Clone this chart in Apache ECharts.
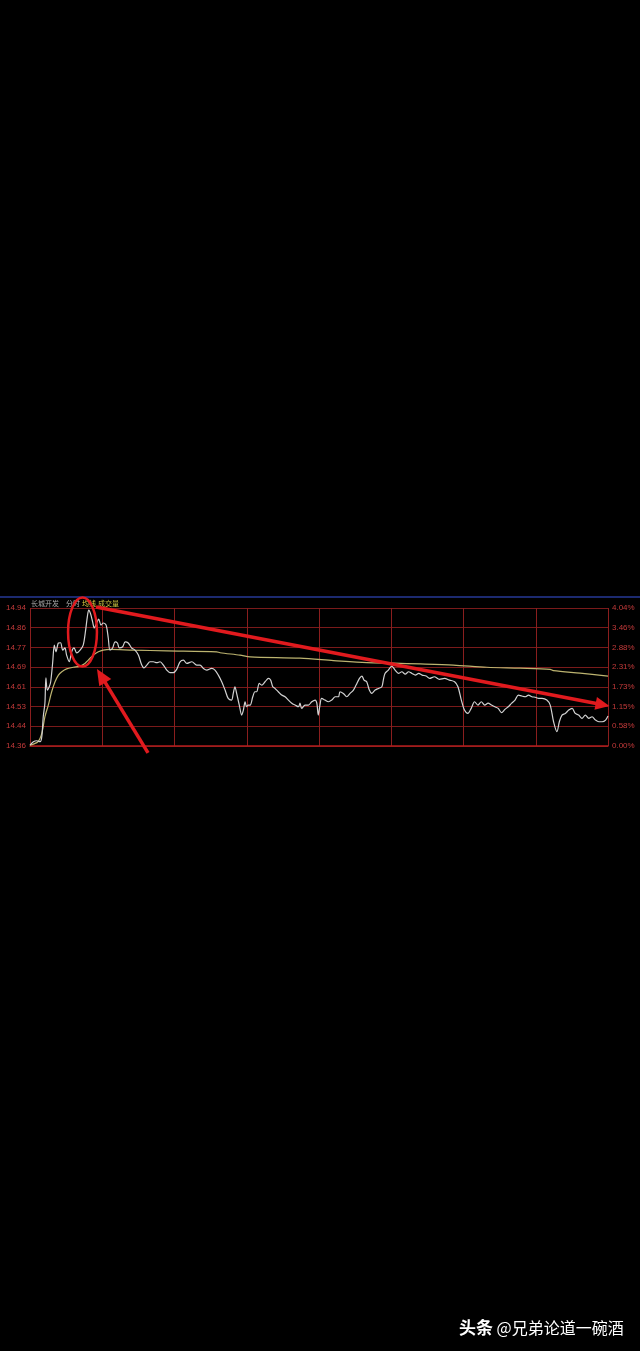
<!DOCTYPE html>
<html>
<head>
<meta charset="utf-8">
<script src="https://cdn.jsdelivr.net/npm/echarts@6/dist/echarts.min.js"></script>
<style>
  html, body { margin: 0; padding: 0; background: #000; }
  #chart { width: 640px; height: 1351px; }
</style>
</head>
<body>
<div id="chart"></div>
<script>
  // 分时价格 [分钟, 价格]
  var priceLine = [
    [0, 14.364], [1.4, 14.378], [2.8, 14.382], [4.2, 14.378], [4.9, 14.399], [5.5, 14.483], [6.2, 14.541], [6.6, 14.646],
    [7.2, 14.595], [8.0, 14.609], [8.6, 14.630], [9.4, 14.709], [10.1, 14.784], [10.8, 14.756], [11.8, 14.793], [12.7, 14.794],
    [13.6, 14.763], [14.5, 14.772], [15.2, 14.742], [16.3, 14.714], [17.3, 14.756], [18.3, 14.772], [19.4, 14.751], [20.8, 14.763],
    [22.1, 14.784], [23.1, 14.847], [23.8, 14.903], [24.4, 14.931], [25.2, 14.914], [26.0, 14.882], [26.7, 14.856], [27.7, 14.877],
    [28.5, 14.893], [29.5, 14.868], [30.4, 14.877], [31.6, 14.868], [32.5, 14.814], [33.2, 14.763], [34.3, 14.772], [35.3, 14.798],
    [36.3, 14.793], [37.1, 14.772], [38.5, 14.777], [39.5, 14.798], [40.8, 14.793], [42.2, 14.772], [43.6, 14.763], [45.0, 14.742],
    [46.4, 14.700], [47.3, 14.688], [48.5, 14.700], [49.8, 14.714], [51.2, 14.714], [52.6, 14.710], [54.0, 14.714], [55.4, 14.700],
    [56.8, 14.679], [58.1, 14.668], [59.5, 14.668], [60.9, 14.682], [62.3, 14.714], [63.7, 14.721], [65.1, 14.707], [67.2, 14.714],
    [69.2, 14.700], [70.6, 14.700], [72.0, 14.686], [73.4, 14.679], [75.4, 14.686], [76.8, 14.679], [78.2, 14.658], [79.6, 14.630],
    [81.0, 14.595], [82.3, 14.560], [83.7, 14.553], [84.4, 14.581], [85.1, 14.609], [85.8, 14.581], [86.9, 14.532], [87.9, 14.490],
    [88.6, 14.511], [89.3, 14.546], [89.9, 14.525], [90.6, 14.532], [91.4, 14.532], [92.5, 14.567], [93.4, 14.588], [94.1, 14.588],
    [95.2, 14.623], [96.2, 14.616], [97.6, 14.630], [99.0, 14.644], [99.9, 14.637], [100.8, 14.609], [101.7, 14.602], [103.1, 14.588],
    [104.5, 14.574], [105.9, 14.567], [107.3, 14.553], [108.7, 14.540], [110.1, 14.532], [111.5, 14.525], [112.1, 14.540], [112.8, 14.518],
    [114.2, 14.532], [115.6, 14.532], [117.0, 14.546], [118.4, 14.553], [119.1, 14.540], [119.7, 14.490], [120.4, 14.532], [121.1, 14.560],
    [122.5, 14.553], [123.9, 14.546], [125.3, 14.553], [126.7, 14.567], [128.1, 14.567], [128.7, 14.588], [130.1, 14.581], [131.5, 14.567],
    [132.9, 14.581], [134.3, 14.595], [135.4, 14.616], [136.8, 14.644], [137.8, 14.654], [138.7, 14.637], [139.8, 14.630], [140.9, 14.595],
    [141.9, 14.581], [143.3, 14.595], [144.7, 14.602], [146.1, 14.609], [146.7, 14.637], [147.4, 14.665], [148.8, 14.679], [150.2, 14.696],
    [151.6, 14.679], [153.0, 14.665], [154.4, 14.672], [155.8, 14.662], [157.2, 14.672], [158.6, 14.665], [160.0, 14.658], [161.4, 14.665],
    [162.8, 14.658], [164.5, 14.654], [165.9, 14.644], [167.9, 14.651], [170.0, 14.640], [172.1, 14.644], [174.2, 14.637], [176.3, 14.630],
    [177.7, 14.609], [179.1, 14.553], [180.4, 14.511], [181.8, 14.497], [183.2, 14.518], [184.6, 14.546], [186.0, 14.532], [187.4, 14.546],
    [188.8, 14.532], [190.2, 14.540], [191.6, 14.532], [193.0, 14.525], [194.4, 14.518], [195.8, 14.500], [197.2, 14.514], [198.6, 14.525],
    [200.0, 14.540], [201.4, 14.553], [202.8, 14.574], [204.2, 14.570], [205.6, 14.567], [207.0, 14.574], [208.4, 14.567], [209.8, 14.565],
    [211.2, 14.560], [212.6, 14.560], [214.6, 14.553], [216.0, 14.532], [217.4, 14.462], [218.8, 14.420], [219.8, 14.462], [220.9, 14.490],
    [222.3, 14.497], [223.7, 14.511], [225.1, 14.518], [226.4, 14.497], [227.8, 14.490], [229.2, 14.476], [230.6, 14.490], [232.0, 14.476],
    [233.4, 14.483], [234.8, 14.469], [236.2, 14.462], [237.6, 14.462], [239.0, 14.469], [240, 14.486]
  ];
  // 均价线 [分钟, 价格]
  var avgLine = [
    [0, 14.364], [3.3, 14.378], [4.9, 14.413], [6.2, 14.483], [7.6, 14.532], [9.0, 14.588], [10.4, 14.630], [11.8, 14.658],
    [13.2, 14.672], [15.2, 14.684], [18.0, 14.691], [20.8, 14.696], [22.8, 14.707], [24.2, 14.721], [26.3, 14.742], [28.4, 14.756],
    [30.4, 14.763], [33.2, 14.766], [42.9, 14.763], [56.8, 14.760], [77.5, 14.756], [78.9, 14.752], [87.2, 14.742], [91.4, 14.735],
    [112.1, 14.729], [126.0, 14.719], [139.8, 14.710], [150.9, 14.708], [162.0, 14.705], [175.8, 14.700], [189.7, 14.691], [203.5, 14.687],
    [216.0, 14.682], [217.3, 14.677], [228.4, 14.666], [240, 14.654]
  ];
  var priceTicks = ['14.36', '14.44', '14.53', '14.61', '14.69', '14.77', '14.86', '14.94'];
  var pctTicks = ['0.00%', '0.58%', '1.15%', '1.73%', '2.31%', '2.88%', '3.46%', '4.04%'];

  // 标注 (数据坐标)
  var trendFrom = [27.4, 14.944], trendTo = [240.6, 14.528];
  var pointerFrom = [49.0, 14.331], pointerTo = [27.8, 14.684];
  var ringCenter = [21.8, 14.839], ringHalf = [6.0, 0.145];

  var priceMin = 14.36, priceMax = 14.94;
  var red = '#e11a1e';
  var gridColor = '#7a1a1a';

  var chart = echarts.init(document.getElementById('chart'));
  chart.setOption({
    backgroundColor: '#000',
    animation: false,
    grid: {left: 30, right: 32, top: 608, height: 138},
    xAxis: {
      type: 'value', min: 0, max: 240, interval: 30,
      axisLine: {show: true, onZero: false, lineStyle: {color: '#b01e1e', width: 1.5}},
      axisTick: {show: false},
      axisLabel: {show: false},
      splitLine: {show: true, lineStyle: {color: '#8a1e1e', width: 1}}
    },
    yAxis: [{
      type: 'value', min: priceMin, max: priceMax, show: false
    }, {
      type: 'value', min: 0, max: 7, interval: 1, position: 'left',
      axisLine: {show: false}, axisTick: {show: false},
      splitLine: {show: true, lineStyle: {color: gridColor, width: 1}},
      axisLabel: {
        margin: 4, fontSize: 8, fontFamily: 'Liberation Sans',
        color: function (v) { return v === 0 ? '#c8c8c8' : '#c43a3a'; },
        formatter: function (v) { return priceTicks[v]; }
      }
    }, {
      type: 'value', min: 0, max: 7, interval: 1, position: 'right',
      axisLine: {show: false}, axisTick: {show: false}, splitLine: {show: false},
      axisLabel: {
        margin: 4, fontSize: 8, fontFamily: 'Liberation Sans',
        color: function (v) { return v === 0 ? '#c8c8c8' : '#c43a3a'; },
        formatter: function (v) { return pctTicks[v]; }
      }
    }],
    series: [{
      name: '均线', type: 'line', yAxisIndex: 0, data: avgLine,
      showSymbol: false, smooth: 0.3,
      lineStyle: {color: '#bdb470', width: 1.2}
    }, {
      name: '分时', type: 'line', yAxisIndex: 0, data: priceLine,
      showSymbol: false, smooth: 0.3,
      lineStyle: {color: '#d2d2d2', width: 1.2}
    }]
  });

  function px(p) {
    return chart.convertToPixel({seriesIndex: 1}, p);
  }

  function arrow(a, b, width, headLen, headWidth) {
    var dx = b[0] - a[0], dy = b[1] - a[1];
    var len = Math.sqrt(dx * dx + dy * dy);
    var ux = dx / len, uy = dy / len;
    var base = [b[0] - ux * headLen, b[1] - uy * headLen];
    var nx = -uy * headWidth / 2, ny = ux * headWidth / 2;
    return [{
      type: 'line', z: 100,
      shape: {x1: a[0], y1: a[1], x2: base[0] + ux * 2, y2: base[1] + uy * 2},
      style: {stroke: red, lineWidth: width}
    }, {
      type: 'polygon', z: 100,
      shape: {points: [b, [base[0] + nx, base[1] + ny], [base[0] - nx, base[1] - ny]]},
      style: {fill: red}
    }];
  }

  var c = px(ringCenter);
  var edge = px([ringCenter[0] + ringHalf[0], ringCenter[1] + ringHalf[1]]);

  var graphics = [{
    type: 'rect', shape: {x: 0, y: 596, width: 640, height: 2},
    style: {fill: '#1c2a70'}
  }, {
    type: 'text', x: 31, y: 603,
    style: {text: '长城开发', fill: '#a8a8a8', font: '7px "Noto Sans CJK SC"', verticalAlign: 'middle'}
  }, {
    type: 'text', x: 66, y: 603,
    style: {text: '分时', fill: '#b8b8b8', font: '7px "Noto Sans CJK SC"', verticalAlign: 'middle'}
  }, {
    type: 'text', x: 82, y: 603,
    style: {text: '均线', fill: '#e0d040', font: '7px "Noto Sans CJK SC"', verticalAlign: 'middle'}
  }, {
    type: 'text', x: 98, y: 603,
    style: {text: '成交量', fill: '#c8c040', font: '7px "Noto Sans CJK SC"', verticalAlign: 'middle'}
  }, {
    type: 'ellipse', z: 100,
    shape: {cx: c[0], cy: c[1], rx: Math.abs(edge[0] - c[0]), ry: Math.abs(c[1] - edge[1])},
    style: {fill: 'none', stroke: red, lineWidth: 2.5}
  }, {
    type: 'text', x: 459, y: 1328,
    style: {
      text: '{b|头条} @兄弟论道一碗酒',
      fill: '#ffffff', font: '16px "Noto Sans CJK SC"', verticalAlign: 'middle',
      rich: {b: {fontWeight: 'bold', fontSize: 17, fill: '#ffffff', fontFamily: 'Noto Sans CJK SC'}}
    }
  }];
  graphics = graphics.concat(arrow(px(trendFrom), px(trendTo), 3.5, 14, 13));
  graphics = graphics.concat(arrow(px(pointerFrom), px(pointerTo), 3.5, 16, 14));

  chart.setOption({graphic: graphics});
</script>
</body>
</html>
